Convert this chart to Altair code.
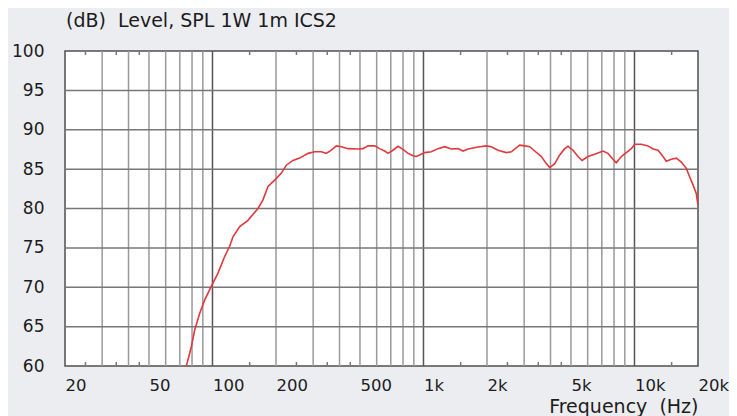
import altair as alt
import pandas as pd

# ---- data ----
freq = [75.2, 79.4, 82.4, 87.0, 91.9, 98.7, 106.2, 114.2, 120.6, 125.1, 134.6, 147.3,
        164.3, 173.5, 183.3, 197.2, 212, 223.8, 240.8, 259, 283.6, 305, 327.8, 346,
        365.8, 386, 408, 438.8, 489, 517, 546, 587, 620, 655, 679, 717, 757, 800,
        845, 892, 925, 959, 1013, 1089, 1172, 1261, 1355, 1458, 1539, 1626, 1813,
        1985, 2096, 2255, 2468, 2608, 2858, 3018, 3188, 3366, 3618, 3820, 3966, 4188,
        4422, 4670, 4842, 5112, 5400, 5640, 6020, 6478, 7092, 7490, 7910, 8200, 8660,
        9146, 9660, 10024, 10772, 11588, 12238, 12926, 13400, 14152, 14946, 15786,
        16672, 17604, 18272, 18938, 19630, 20000]
spl = [60.0, 62.45, 64.6, 66.7, 68.4, 70.1, 71.8, 73.9, 75.2, 76.4, 77.7, 78.5,
       80.0, 81.1, 82.8, 83.6, 84.5, 85.5, 86.1, 86.4, 87.0, 87.2, 87.2, 87.0,
       87.4, 87.95, 87.85, 87.6, 87.55, 87.6, 87.95, 87.95, 87.6, 87.3, 87.0, 87.4,
       87.9, 87.5, 87.0, 86.7, 86.6, 86.8, 87.1, 87.2, 87.6, 87.85, 87.55, 87.6,
       87.3, 87.55, 87.8, 87.95, 87.85, 87.4, 87.1, 87.2, 88.05, 87.95, 87.85, 87.3,
       86.6, 85.7, 85.2, 85.7, 86.8, 87.6, 87.9, 87.4, 86.6, 86.1, 86.6, 86.9, 87.3,
       87.0, 86.25, 85.8, 86.6, 87.1, 87.6, 88.15, 88.15, 87.95, 87.55, 87.4, 86.9,
       86.0, 86.25, 86.4, 85.9, 85.1, 84.0, 83.0, 81.9, 80.4]

minor_grid = [30, 40, 50, 60, 70, 80, 90,
              200, 300, 400, 500, 600, 700, 800, 900,
              2000, 3000, 4000, 5000, 6000, 7000, 8000, 9000]
major_grid = [100, 1000, 10000]
h_grid = [65, 70, 75, 80, 85, 90, 95]
small_ticks = [25, 35, 45, 150, 250, 350, 450, 1500, 2500, 3500, 4500, 15000]
x_labels = [20, 50, 100, 200, 500, 1000, 2000, 5000, 10000, 20000]
y_labels = [60, 65, 70, 75, 80, 85, 90, 95, 100]

W, H = 633, 315
FONT = "DejaVu Sans"
TXT = "#1c1c1c"

xs = alt.Scale(type="log", domain=[20, 20000], nice=False)
ys = alt.Scale(domain=[60, 100], nice=False, zero=False)

x_axis = alt.Axis(values=x_labels,
                  labelExpr="datum.value >= 1000 ? (datum.value / 1000) + 'k' : '' + datum.value",
                  labelAlign="left", labelBaseline="alphabetic", labelPadding=24,
                  ticks=False, tickSize=0, domain=False, grid=False,
                  labelFont=FONT, labelFontSize=16.5, labelColor=TXT,
                  labelOverlap=False, labelFlush=False,
                  title="Frequency\u00a0\u00a0(Hz)", titleFont=FONT, titleFontSize=19,
                  titleFontWeight="normal", titleColor=TXT, titleAlign="right",
                  titleAnchor="end", titleBaseline="alphabetic",
                  titleX=W, titleY=46)
y_axis = alt.Axis(values=y_labels, labelPadding=21, ticks=False, tickSize=0,
                  domain=False, grid=False, title=None,
                  labelFont=FONT, labelFontSize=17, labelColor=TXT,
                  labelAlign="right", labelBaseline="middle",
                  labelOverlap=False, labelFlush=False)

curve = pd.DataFrame({"f": freq, "db": spl})

line = alt.Chart(curve).mark_line(color="#e2383c", strokeWidth=1.6, clip=True).encode(
    x=alt.X("f:Q", scale=xs, axis=x_axis),
    y=alt.Y("db:Q", scale=ys, axis=y_axis),
    order=alt.Order("f:Q"),
)

minor_v = alt.Chart(pd.DataFrame({"f": minor_grid})).mark_rule(
    color="#9a9a9a", strokeWidth=1.5).encode(x=alt.X("f:Q", scale=xs, axis=x_axis))
major_v = alt.Chart(pd.DataFrame({"f": major_grid})).mark_rule(
    color="#555555", strokeWidth=1.5).encode(x=alt.X("f:Q", scale=xs, axis=x_axis))
horiz = alt.Chart(pd.DataFrame({"db": h_grid})).mark_rule(
    color="#777777", strokeWidth=1.5).encode(y=alt.Y("db:Q", scale=ys, axis=y_axis))
tick_df = pd.DataFrame({"f": small_ticks})
ticks_bottom = alt.Chart(tick_df).mark_rule(color="#777777", strokeWidth=1.5).encode(
    x=alt.X("f:Q", scale=xs, axis=x_axis), y=alt.value(H - 4), y2=alt.value(H))
ticks_top = alt.Chart(tick_df).mark_rule(color="#777777", strokeWidth=1.5).encode(
    x=alt.X("f:Q", scale=xs, axis=x_axis), y=alt.value(0), y2=alt.value(4))

chart = alt.layer(minor_v, major_v, horiz, ticks_bottom, ticks_top, line).properties(
    width=W, height=H,
    title=alt.TitleParams("(dB)\u00a0\u00a0Level, SPL 1W 1m ICS2", anchor="start", frame="group",
                          font=FONT, fontSize=19, fontWeight="normal", color=TXT,
                          baseline="alphabetic", offset=5, dx=1, dy=9),
    padding={"left": 57, "top": 43, "right": 31, "bottom": 50},
    autosize=alt.AutoSizeParams(type="none"),
    background="#ecedf0",
).configure_view(stroke="#4f4f4f", strokeWidth=1.5, fill="white")

chart.save("out.html", embed_options={"renderer": "svg", "actions": False})
